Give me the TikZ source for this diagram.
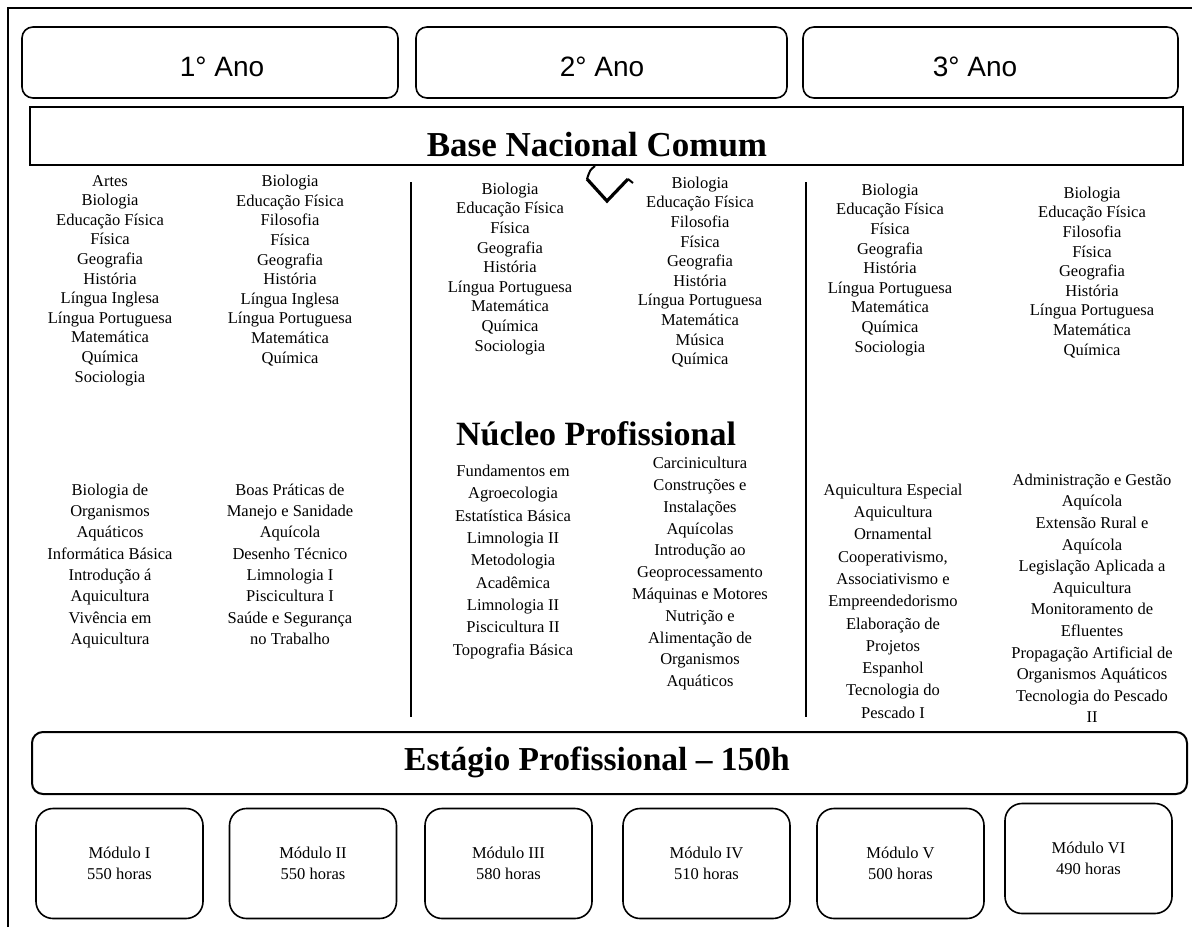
\documentclass[tikz,border=0pt]{standalone}
\usepackage{fontspec}
\setmainfont{Liberation Serif}
\newfontfamily\yearfont{Liberation Sans}
\tikzset{
  frameline/.style={line width=1.5pt},
  yearbox/.style={draw, line width=1.6pt, rounded corners=11pt, inner sep=0pt},
  titlebox/.style={draw, line width=2.2pt, inner sep=0pt},
  stagebox/.style={draw, line width=2pt, rounded corners=11pt, inner sep=0pt},
  modbox/.style={draw, line width=1.6pt, rounded corners=17pt, inner sep=0pt, align=center,
    minimum width=167pt, minimum height=110pt, font=\fontsize{16.5}{21}\selectfont},
  yeartxt/.style={inner sep=0pt, font=\yearfont\fontsize{28}{32}\selectfont},
  bigtitle/.style={inner sep=0pt, font=\bfseries\fontsize{35}{40}\selectfont},
  divider/.style={line width=1.8pt},
  basecol/.style={align=center, inner sep=0pt, anchor=north,
    font=\fontsize{16.5}{19.6}\selectfont, execute at begin node={\rule{0pt}{14.85pt}}},
  nuccol/.style={align=center, inner sep=0pt, anchor=north,
    font=\fontsize{16.5}{#1}\selectfont, execute at begin node={\rule{0pt}{14.85pt}}},
  chevron/.style={line width=3.2pt, line join=miter, line cap=butt}
}
\begin{document}
\begin{tikzpicture}[x=1pt,y=-1pt]
\useasboundingbox (0,0) rectangle (1192,927);
% outer frame
\coordinate (fbl) at (8,927);
\coordinate (ftl) at (8,8);
\coordinate (ftr) at (1192,8);
\draw[frameline] (fbl) -- (ftl) -- (ftr);

% year boxes
\node[yearbox, minimum width=376pt, minimum height=71pt] (y1) at (210,62.5) {};
\node[yearbox, minimum width=371pt, minimum height=71pt] (y2) at (601.5,62.5) {};
\node[yearbox, minimum width=375pt, minimum height=71pt] (y3) at (990.5,62.5) {};
\node[yeartxt] (t1) at (222,67) {1° Ano};
\node[yeartxt] (t2) at (602,67) {2° Ano};
\node[yeartxt] (t3) at (975,67) {3° Ano};

% Base Nacional Comum
\node[titlebox, minimum width=1153pt, minimum height=58pt] (base) at (606.5,136) {};
\node[bigtitle] (basetxt) at (597,145) {Base Nacional Comum};

% chevron
\coordinate (chl) at (587,179);
\coordinate (chb) at (607,201);
\coordinate (chr) at (628,179);
\coordinate (chs) at (595,166);
\draw[chevron] (chl) -- (chb) -- (chr);
\draw[line width=2pt] (chs) .. controls (590,170) .. (chl);
\draw[line width=2pt] (chr) -- (633,183);

% dividers
\coordinate (d1t) at (411,182);
\coordinate (d1b) at (411,717);
\coordinate (d2t) at (806,182);
\coordinate (d2b) at (806,717);
\draw[divider] (d1t) -- (d1b);
\draw[divider] (d2t) -- (d2b);

% base subjects
\node[basecol] (b1) at (110,175) {Artes\\Biologia\\Educação Física\\Física\\Geografia\\História\\Língua Inglesa\\Língua Portuguesa\\Matemática\\Química\\Sociologia};
\node[basecol] (b2) at (290,175) {Biologia\\Educação Física\\Filosofia\\Física\\Geografia\\História\\Língua Inglesa\\Língua Portuguesa\\Matemática\\Química};
\node[basecol] (b3) at (510,182.6) {Biologia\\Educação Física\\Física\\Geografia\\História\\Língua Portuguesa\\Matemática\\Química\\Sociologia};
\node[basecol] (b4) at (700,176.6) {Biologia\\Educação Física\\Filosofia\\Física\\Geografia\\História\\Língua Portuguesa\\Matemática\\Música\\Química};
\node[basecol] (b5) at (890,183.6) {Biologia\\Educação Física\\Física\\Geografia\\História\\Língua Portuguesa\\Matemática\\Química\\Sociologia};
\node[basecol] (b6) at (1092,186.6) {Biologia\\Educação Física\\Filosofia\\Física\\Geografia\\História\\Língua Portuguesa\\Matemática\\Química};

% Núcleo Profissional
\node[bigtitle, font=\bfseries\fontsize{34}{40}\selectfont] (nuc) at (596,434) {Núcleo Profissional};

\node[nuccol=21.3] (n1) at (110,483.6) {Biologia de\\Organismos\\Aquáticos\\Informática Básica\\Introdução á\\Aquicultura\\Vivência em\\Aquicultura};
\node[nuccol=21.3] (n2) at (290,483.6) {Boas Práticas de\\Manejo e Sanidade\\Aquícola\\Desenho Técnico\\Limnologia I\\Piscicultura I\\Saúde e Segurança\\no Trabalho};
\node[nuccol=22.3] (n3) at (513,465) {Fundamentos em\\Agroecologia\\Estatística Básica\\Limnologia II\\Metodologia\\Acadêmica\\Limnologia II\\Piscicultura II\\Topografia Básica};
\node[nuccol=21.8] (n4) at (700,457) {Carcinicultura\\Construções e\\Instalações\\Aquícolas\\Introdução ao\\Geoprocessamento\\Máquinas e Motores\\Nutrição e\\Alimentação de\\Organismos\\Aquáticos};
\node[nuccol=22.3] (n5) at (893,483.6) {Aquicultura Especial\\Aquicultura\\Ornamental\\Cooperativismo,\\Associativismo e\\Empreendedorismo\\Elaboração de\\Projetos\\Espanhol\\Tecnologia do\\Pescado I};
\node[nuccol=21.6] (n6) at (1092,473.6) {Administração e Gestão\\Aquícola\\Extensão Rural e\\Aquícola\\Legislação Aplicada a\\Aquicultura\\Monitoramento de\\Efluentes\\Propagação Artificial de\\Organismos Aquáticos\\Tecnologia do Pescado\\II};

% Estágio
\node[stagebox, minimum width=1155pt, minimum height=62pt] (est) at (609.5,763) {};
\node[bigtitle, font=\bfseries\fontsize{33.5}{38}\selectfont] (esttxt) at (597,762) {Estágio Profissional – 150h};

% modules
\node[modbox] (m1) at (119.5,863.5) {Módulo I\\550 horas};
\node[modbox] (m2) at (313,863.5) {Módulo II\\550 horas};
\node[modbox] (m3) at (508.5,863.5) {Módulo III\\580 horas};
\node[modbox] (m4) at (706.5,863.5) {Módulo IV\\510 horas};
\node[modbox] (m5) at (900.5,863.5) {Módulo V\\500 horas};
\node[modbox] (m6) at (1088.5,858.5) {Módulo VI\\490 horas};
\end{tikzpicture}
\end{document}
